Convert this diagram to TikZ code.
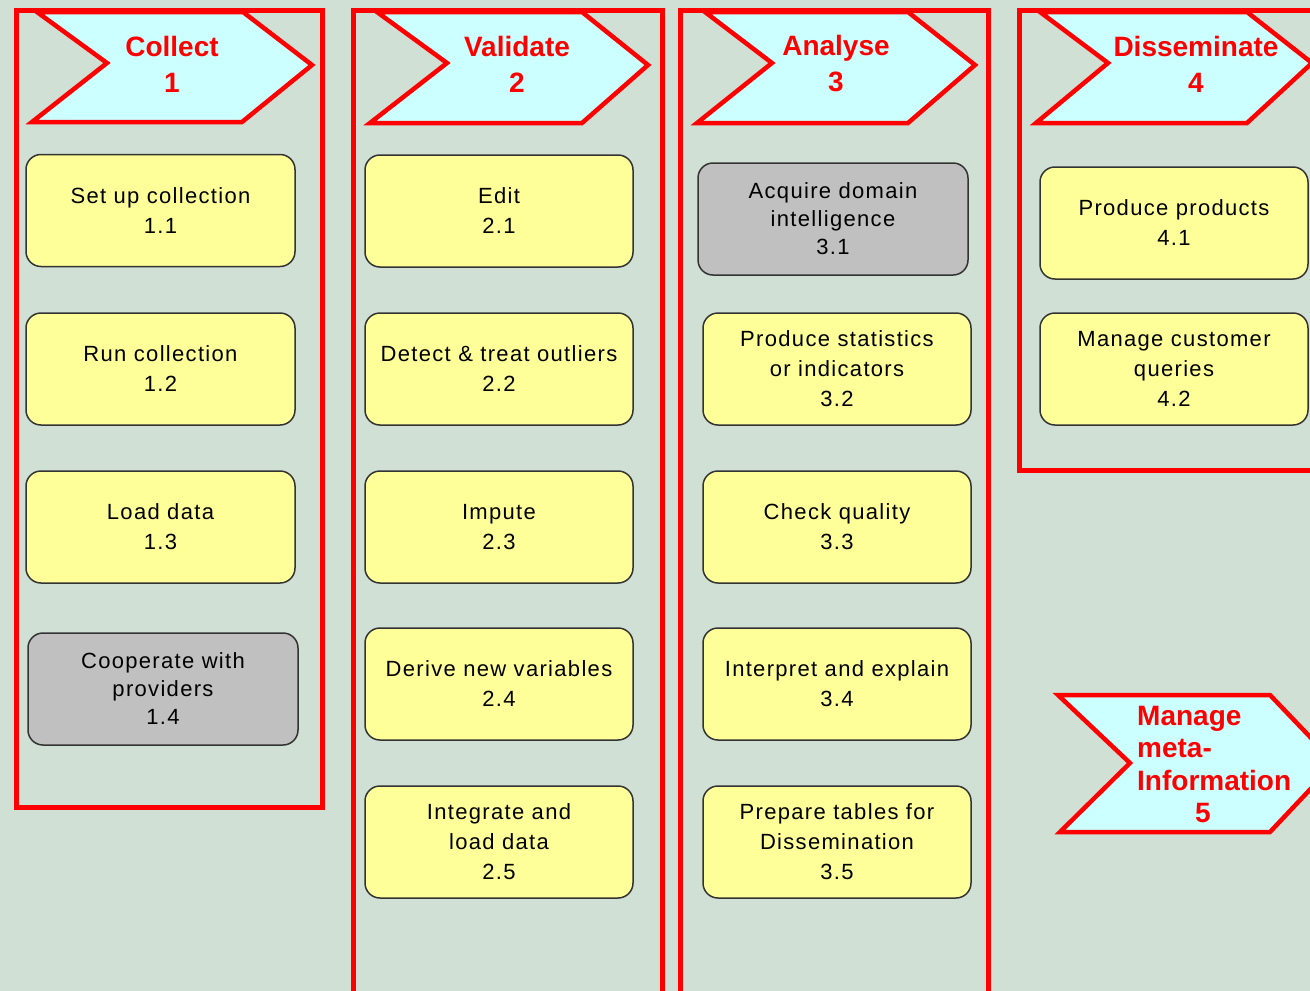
\documentclass[tikz,border=0pt]{standalone}
\usepackage{fontspec}
\setmainfont{Liberation Sans}
\newfontfamily\boxfont[LetterSpace=6]{Liberation Sans}
\newfontfamily\titlefont{Liberation Sans}
\definecolor{bgcol}{RGB}{208,224,212}
\definecolor{cyanbg}{RGB}{204,255,255}
\definecolor{boxyellow}{RGB}{255,255,153}
\definecolor{boxgray}{RGB}{192,192,192}
\tikzset{
  colframe/.style={draw=red, line width=5pt},
  chev/.style={draw=red, fill=cyanbg, line width=4.5pt, line join=miter},
  box/.style={rounded corners=15pt, draw=black!80, line width=1.5pt, fill=boxyellow,
    minimum width=269pt, minimum height=112pt, align=center, inner sep=0pt,
    font=\boxfont\fontsize{22}{30}\selectfont},
  graybox/.style={box, fill=boxgray, font=\boxfont\fontsize{22}{28}\selectfont},
  ctitle/.style={text=red, align=center, inner sep=0pt,
    font=\titlefont\bfseries\fontsize{28}{36}\selectfont},
}
\begin{document}
\begin{tikzpicture}[x=1pt,y=-1pt]
\useasboundingbox (0,0) rectangle (1310,991);
\fill[bgcol] (0,0) rectangle (1310,991);
\clip (0,0) rectangle (1310,991);
% column frames
\draw[colframe] (16,10) rectangle (322,807);
\draw[colframe] (353,10) rectangle (662,1010);
\draw[colframe] (680,10) rectangle (988,1010);
\draw[colframe] (1019,10) rectangle (1340,470);
% chevrons
\draw[chev] (37,12) -- (243,12) -- (312,65) -- (242,122) -- (32,122) -- (107,63) -- cycle;
\node[ctitle] (t1) at (172,64) {Collect\\1};
\draw[chev] (377,12) -- (582,12) -- (648,65) -- (582,123) -- (370,123) -- (447,63) -- cycle;
\node[ctitle] (t2) at (517,64) {Validate\\2};
\draw[chev] (705,12) -- (908,12) -- (975,65) -- (908,123) -- (697,123) -- (772,63) -- cycle;
\node[ctitle] (t3) at (836,64) {Analyse\\3};
\draw[chev] (1040,12) -- (1247,12) -- (1312,63) -- (1247,123) -- (1036,123) -- (1108,63) -- cycle;
\node[ctitle] (t4) at (1196,64) {Disseminate\\4};
\draw[chev] (1058,695) -- (1270,695) -- (1335,763) -- (1270,832) -- (1060,832) -- (1130,763) -- cycle;
\node[ctitle, align=left, anchor=north west, font=\titlefont\bfseries\fontsize{28}{32.5}\selectfont] (t5) at (1137,706) {Manage\\meta-\\Information\\\hspace*{58pt}5};
% column 1
\node[box] (b11) at (160.5,210.5) {Set up collection\\1.1};
\node[box] (b12) at (160.5,369) {Run collection\\1.2};
\node[box] (b13) at (160.5,527) {Load data\\1.3};
\node[graybox, minimum width=270pt] (b14) at (163,689) {Cooperate with\\providers\\1.4};
% column 2
\node[box, minimum width=268pt] (b21) at (499,211) {Edit\\2.1};
\node[box, minimum width=268pt] (b22) at (499,369) {Detect \& treat outliers\\2.2};
\node[box, minimum width=268pt] (b23) at (499,527) {Impute\\2.3};
\node[box, minimum width=268pt] (b24) at (499,684) {Derive new variables\\2.4};
\node[box, minimum width=268pt] (b25) at (499,842) {Integrate and\\load data\\2.5};
% column 3
\node[graybox, minimum width=270pt] (b31) at (833,219) {Acquire domain\\intelligence\\3.1};
\node[box, minimum width=268pt] (b32) at (837,369) {Produce statistics\\or indicators\\3.2};
\node[box, minimum width=268pt] (b33) at (837,527) {Check quality\\3.3};
\node[box, minimum width=268pt] (b34) at (837,684) {Interpret and explain\\3.4};
\node[box, minimum width=268pt] (b35) at (837,842) {Prepare tables for\\Dissemination\\3.5};
% column 4
\node[box, minimum width=268pt] (b41) at (1174,223) {Produce products\\4.1};
\node[box, minimum width=268pt] (b42) at (1174,369) {Manage customer\\queries\\4.2};
\end{tikzpicture}
\end{document}
